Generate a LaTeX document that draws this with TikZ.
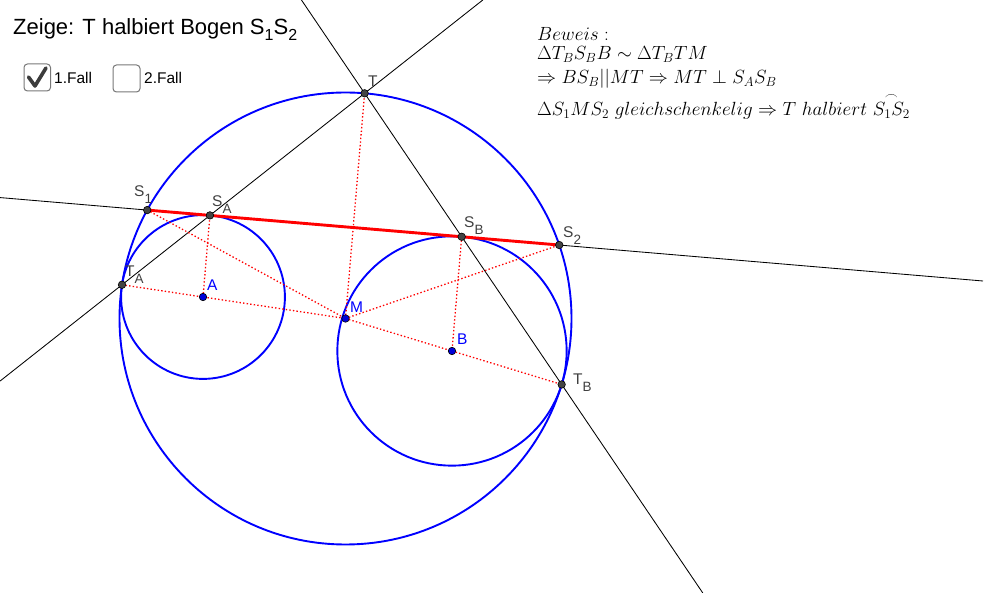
\documentclass[tikz,border=0pt]{standalone}
\usepackage{amsmath}
\usepackage{graphicx}
\usepackage{fontspec}
\newfontfamily\arial{Liberation Sans}
\definecolor{ggblue}{RGB}{0,0,255}
\definecolor{ptgray}{RGB}{68,68,68}
\definecolor{labgray}{RGB}{64,64,64}
\definecolor{boxgray}{RGB}{120,120,120}
\definecolor{checkgray}{RGB}{60,60,60}
\newcommand\lsub[1]{\raisebox{-7pt}{\fontsize{13.5}{13.5}\selectfont #1}}
\newcommand\tsub[1]{\raisebox{-6pt}{\fontsize{16}{16}\selectfont #1}}
\newcommand\prf[1]{\scalebox{1.105}{$#1$}}
\begin{document}
\begin{tikzpicture}[x=1pt,y=-1pt,
  blk/.style={line width=0.85pt, black},
  circ/.style={line width=1.9pt, draw=ggblue},
  reddot/.style={line width=1.3pt, red, dash pattern=on 1.4pt off 2.2pt},
  redline/.style={line width=2.9pt, red},
  gpt/.style={circle, fill=ptgray, draw=black, line width=0.6pt, inner sep=0pt, minimum size=7.5pt},
  bpt/.style={circle, fill=ggblue!85!black, draw=black, line width=0.6pt, inner sep=0pt, minimum size=7.5pt},
  glab/.style={text=labgray, font=\arial\fontsize{15.5}{15.5}\selectfont, inner sep=0pt, anchor=base west},
  blab/.style={text=ggblue, font=\arial\fontsize{15.5}{15.5}\selectfont, inner sep=0pt, anchor=base west},
  chk/.style={draw=boxgray, line width=1pt, rounded corners=3.5pt},
  proof/.style={anchor=base west, inner sep=0pt, font=\fontsize{17.28}{20}\selectfont}
]
\useasboundingbox (0,0) rectangle (986,593);
% key points
\coordinate (M) at (345.5,318.5);
\coordinate (A) at (203,297);
\coordinate (B) at (452,351);
\coordinate (T) at (364.61,93.31);
\coordinate (TA) at (122.02,284.78);
\coordinate (TB) at (561.66,384.46);
\coordinate (SA) at (209.93,215.39);
\coordinate (SB) at (461.70,236.76);
\coordinate (S1) at (147.21,210.07);
\coordinate (S2) at (559.23,245.03);
% line ends
\coordinate (L1a) at (0,381.1);
\coordinate (L1b) at (482.8,0);
\coordinate (L2a) at (301.46,0);
\coordinate (L2b) at (702.8,593);
\coordinate (L3a) at (0,197.58);
\coordinate (L3b) at (983,281);
% black lines
\draw[blk] (L1a) -- (L1b);
\draw[blk] (L2a) -- (L2b);
\draw[blk] (L3a) -- (L3b);
% circles
\draw[circ] (M) circle[radius=226];
\draw[circ] (A) circle[radius=81.9];
\draw[circ] (B) circle[radius=114.65];
% red dotted
\draw[reddot] (TA) -- (M);
\draw[reddot] (A) -- (SA);
\draw[reddot] (S1) -- (M);
\draw[reddot] (M) -- (S2);
\draw[reddot] (M) -- (T);
\draw[reddot] (SB) -- (B);
\draw[reddot] (M) -- (TB);
% red chord
\draw[redline] (S1) -- (S2);
% points
\node[gpt] (pT) at (T) {};
\node[gpt] (pS1) at (S1) {};
\node[gpt] (pSA) at (SA) {};
\node[gpt] (pTA) at (TA) {};
\node[gpt] (pSB) at (SB) {};
\node[gpt] (pS2) at (S2) {};
\node[gpt] (pTB) at (TB) {};
\node[bpt] (pA) at (A) {};
\node[bpt] (pM) at (M) {};
\node[bpt] (pB) at (B) {};
% labels
\node[glab] (lT) at (368,87) {T};
\node[glab] (lS1) at (134,197) {S\lsub{1}};
\node[glab] (lSA) at (212,207) {S\lsub{A}};
\node[glab] (lTA) at (125,277) {T\lsub{A}};
\node[glab] (lSB) at (464,228) {S\lsub{B}};
\node[glab] (lS2) at (563,238) {S\lsub{2}};
\node[glab] (lTB) at (573,385) {T\lsub{B}};
\node[blab] (lA) at (207,291) {A};
\node[blab] (lM) at (350,313) {M};
\node[blab] (lB) at (457,345) {B};
% title
\node[anchor=base west, inner sep=0pt, font=\arial\fontsize{22}{22}\selectfont] (title) at (13,35) {Zeige: T halbiert Bogen S\tsub{1}S\tsub{2}};
% checkboxes
\draw[chk] (24,64) rectangle (50.5,91);
\draw[chk] (113,65) rectangle (140,92);
\coordinate (c1) at (28.5,77);
\coordinate (c2) at (35,86);
\coordinate (c3) at (46,68);
\draw[checkgray, line width=3.6pt, line cap=round, line join=round] (c1) -- (c2) -- (c3);
\node[anchor=base west, inner sep=0pt, font=\arial\fontsize{15.5}{15.5}\selectfont] (f1) at (54,84) {1.Fall};
\node[anchor=base west, inner sep=0pt, font=\arial\fontsize{15.5}{15.5}\selectfont] (f2) at (144,84) {2.Fall};
% proof
\node[proof] (p1) at (537,41) {\prf{Beweis:}};
\node[proof] (p2) at (537,60) {\prf{\Delta T_BS_BB\sim\Delta T_BTM}};
\node[proof] (p3) at (537,84) {\prf{\Rightarrow BS_B||MT\Rightarrow MT\perp S_AS_B}};
\node[proof] (p4) at (537,116) {\prf{\Delta S_1MS_2\ gleichschenkelig\Rightarrow T\ halbiert\ \overset{\frown}{S_1S_2}}};
\end{tikzpicture}
\end{document}
